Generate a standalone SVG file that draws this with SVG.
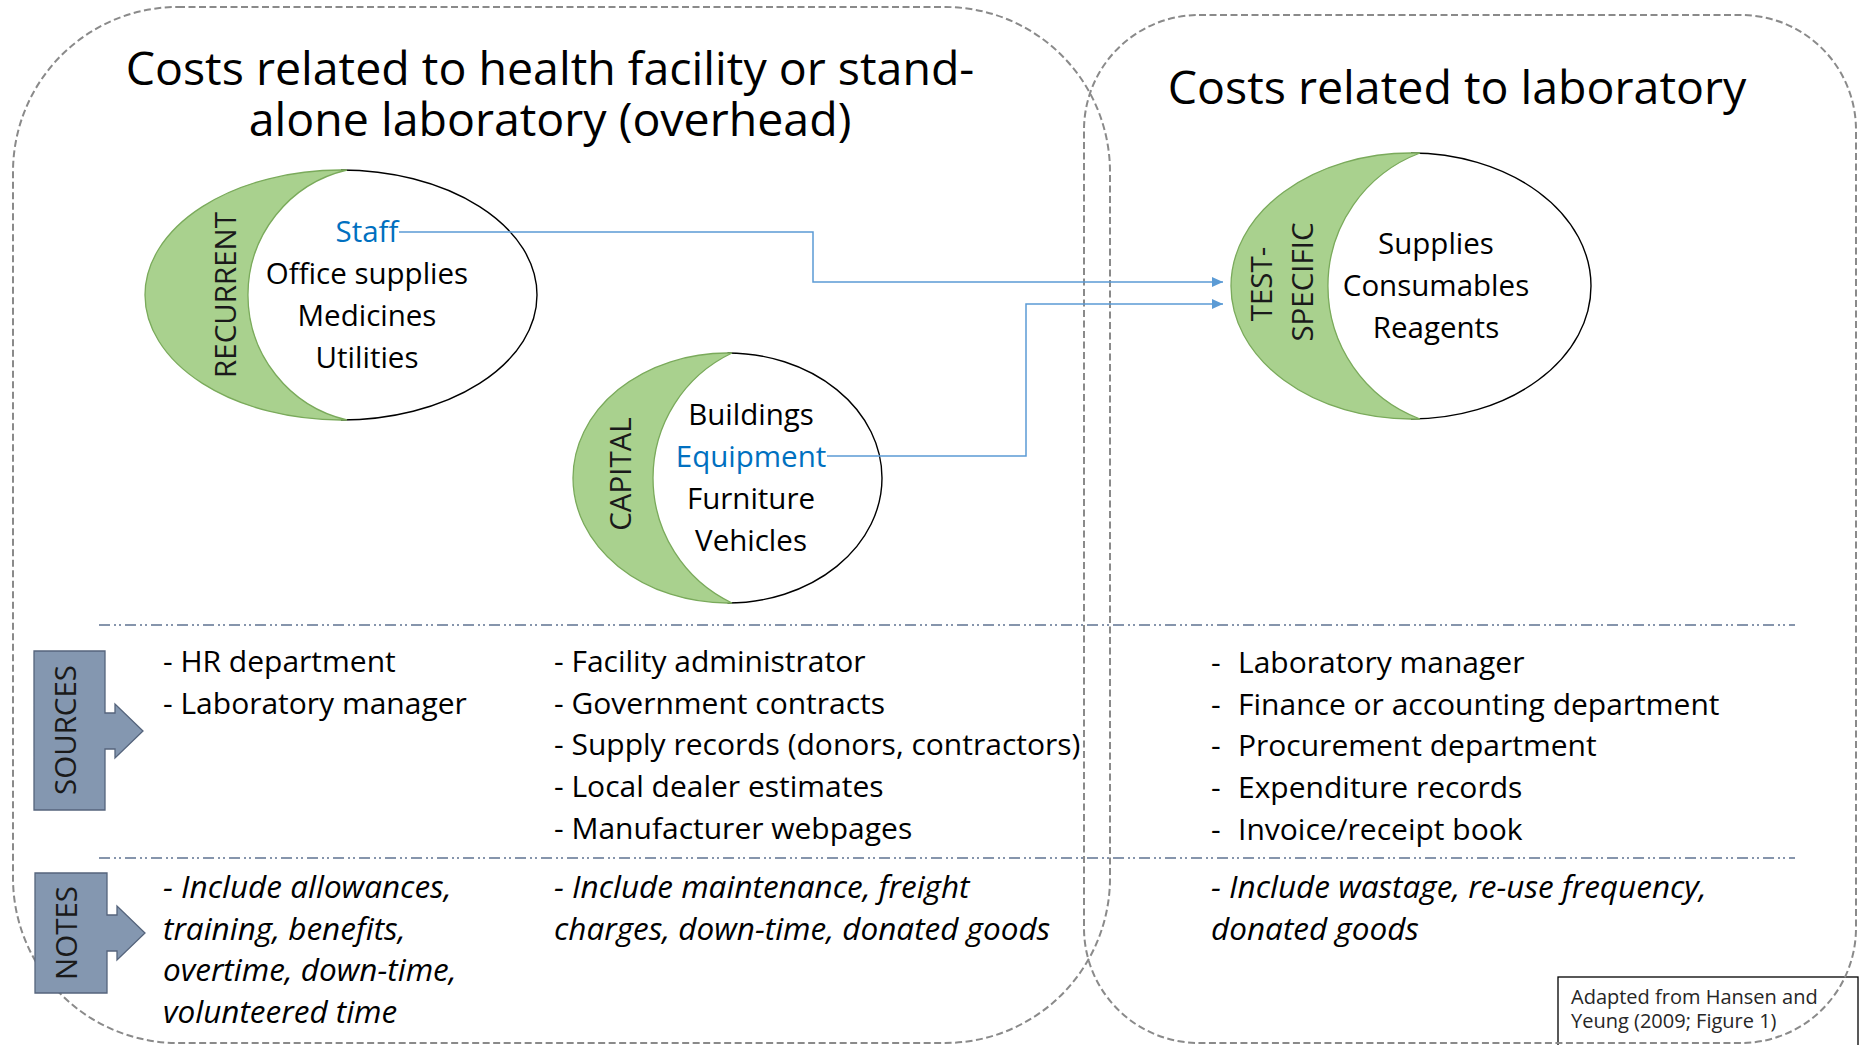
<svg xmlns="http://www.w3.org/2000/svg" width="1863" height="1045" viewBox="0 0 1863 1045">
<defs>
<style>
text{font-family:"Open Sans","Liberation Sans",sans-serif;fill:#000}
.title{font-size:46.5px}
.item{font-size:29.5px;text-anchor:middle}
.blue{fill:#0070C0}
.vlab{font-size:29.5px;text-anchor:middle;fill:#1a1a1a}
.list{font-size:30px}
.note{font-size:31.5px;font-style:italic}
.attr{font-size:20px;fill:#262626}
.container{fill:none;stroke:#8a8a8a;stroke-width:2;stroke-dasharray:7 3.5}
.sep{fill:none;stroke:#5f7391;stroke-width:1.6;stroke-dasharray:11 4 2 3 2 4}
.oval{fill:#fff;stroke:none}
.rim{fill:none;stroke:#000;stroke-width:1.4}
.moon{fill:#A9D18E;stroke:#7aaa5b;stroke-width:1.3}
.callout{fill:#8497B0;stroke:#55647c;stroke-width:1.3}
.conn{fill:none;stroke:#5B9BD5;stroke-width:1.5}
</style>
<marker id="arr" markerUnits="userSpaceOnUse" markerWidth="11" markerHeight="10" refX="11" refY="5" orient="auto">
<path d="M0,0 L11,5 L0,10 z" fill="#5B9BD5"/>
</marker>
</defs>
<rect width="1863" height="1045" fill="#fff"/>

<g id="attribution">
<rect x="1558" y="977" width="300" height="80" fill="#fff" stroke="#000" stroke-width="1.3"/>
<text class="attr" x="1571" y="1004">Adapted from Hansen and</text>
<text class="attr" x="1571" y="1028">Yeung (2009; Figure 1)</text>
</g>

<g id="containers">
<rect id="overhead-container" class="container" x="13" y="7" width="1097" height="1036" rx="165" ry="165"/>
<rect id="lab-container" class="container" x="1084" y="15" width="772" height="1028" rx="115" ry="115"/>
</g>

<g id="titles">
<text class="title" text-anchor="middle"><tspan x="550" y="85">Costs related to health facility or stand-</tspan><tspan x="550" y="136">alone laboratory (overhead)</tspan></text>
<text class="title" x="1457" y="104" text-anchor="middle">Costs related to laboratory</text>
</g>

<g id="separators">
<line class="sep" x1="99" y1="625" x2="1795" y2="625"/>
<line class="sep" x1="99" y1="858" x2="1795" y2="858"/>
</g>

<g id="node-recurrent">
<ellipse class="oval" cx="341" cy="295" rx="196" ry="125"/>
<path class="rim" d="M341,170 A196,125 0 0 1 341,420"/>
<path class="moon" d="M347,170 L341,170 A196,125 0 0 0 341,420 L347,420 A128.4,128.4 0 0 1 347,170 Z"/>
<text class="vlab" transform="translate(236,295) rotate(-90)">RECURRENT</text>
<text class="item blue" x="367" y="242">Staff</text>
<text class="item" x="367" y="284">Office supplies</text>
<text class="item" x="367" y="326">Medicines</text>
<text class="item" x="367" y="368">Utilities</text>
</g>

<g id="node-capital">
<ellipse class="oval" cx="727.5" cy="478" rx="154.5" ry="125"/>
<path class="rim" d="M727.5,353 A154.5,125 0 0 1 727.5,603"/>
<path class="moon" d="M732,353 L727.5,353 A154.5,125 0 0 0 727.5,603 L732,603 A138.4,138.4 0 0 1 732,353 Z"/>
<text class="vlab" transform="translate(631,474) rotate(-90)">CAPITAL</text>
<text class="item" x="751" y="425">Buildings</text>
<text class="item blue" x="751" y="467">Equipment</text>
<text class="item" x="751" y="509">Furniture</text>
<text class="item" x="751" y="551">Vehicles</text>
</g>

<g id="node-test-specific">
<ellipse class="oval" cx="1411" cy="286" rx="180" ry="133"/>
<path class="rim" d="M1411,153 A180,133 0 0 1 1411,419"/>
<path class="moon" d="M1420,153 L1411,153 A180,133 0 0 0 1411,419 L1420,419 A142.1,142.1 0 0 1 1420,153 Z"/>
<text class="vlab" transform="translate(1272,284) rotate(-90)">TEST-</text>
<text class="vlab" transform="translate(1313,282) rotate(-90)">SPECIFIC</text>
<text class="item" x="1436" y="254">Supplies</text>
<text class="item" x="1436" y="296">Consumables</text>
<text class="item" x="1436" y="338">Reagents</text>
</g>

<g id="connectors">
<path class="conn" d="M399,232 H813 V282 H1223" marker-end="url(#arr)"/>
<path class="conn" d="M827,456 H1026 V304 H1223" marker-end="url(#arr)"/>
</g>

<g id="node-sources">
<path class="callout" d="M34,651 H105 V713 H115 V704 L143,731 L115,758 V749 H105 V810 H34 Z"/>
<text class="vlab" transform="translate(76,730) rotate(-90)">SOURCES</text>
</g>

<g id="node-notes">
<path class="callout" d="M35,873 H107 V915 H117 V906 L145,933 L117,960 V951 H107 V993 H35 Z"/>
<text class="vlab" transform="translate(77,933) rotate(-90)">NOTES</text>
</g>

<g id="sources-text">
<text class="list" x="163" y="672">- HR department</text>
<text class="list" x="163" y="714">- Laboratory manager</text>
<text class="list" x="554" y="672">- Facility administrator</text>
<text class="list" x="554" y="714">- Government contracts</text>
<text class="list" x="554" y="755">- Supply records (donors, contractors)</text>
<text class="list" x="554" y="797">- Local dealer estimates</text>
<text class="list" x="554" y="839">- Manufacturer webpages</text>
<text class="list" y="673"><tspan x="1211">-</tspan><tspan x="1238">Laboratory manager</tspan></text>
<text class="list" y="715"><tspan x="1211">-</tspan><tspan x="1238">Finance or accounting department</tspan></text>
<text class="list" y="756"><tspan x="1211">-</tspan><tspan x="1238">Procurement department</tspan></text>
<text class="list" y="798"><tspan x="1211">-</tspan><tspan x="1238">Expenditure records</tspan></text>
<text class="list" y="840"><tspan x="1211">-</tspan><tspan x="1238">Invoice/receipt book</tspan></text>
</g>

<g id="notes-text">
<text class="note" x="163" y="898">- Include allowances,</text>
<text class="note" x="163" y="940">training, benefits,</text>
<text class="note" x="163" y="981">overtime, down-time,</text>
<text class="note" x="163" y="1023">volunteered time</text>
<text class="note" x="554" y="898">- Include maintenance, freight</text>
<text class="note" x="554" y="940">charges, down-time, donated goods</text>
<text class="note" x="1211" y="898">- Include wastage, re-use frequency,</text>
<text class="note" x="1211" y="940">donated goods</text>
</g>
</svg>
